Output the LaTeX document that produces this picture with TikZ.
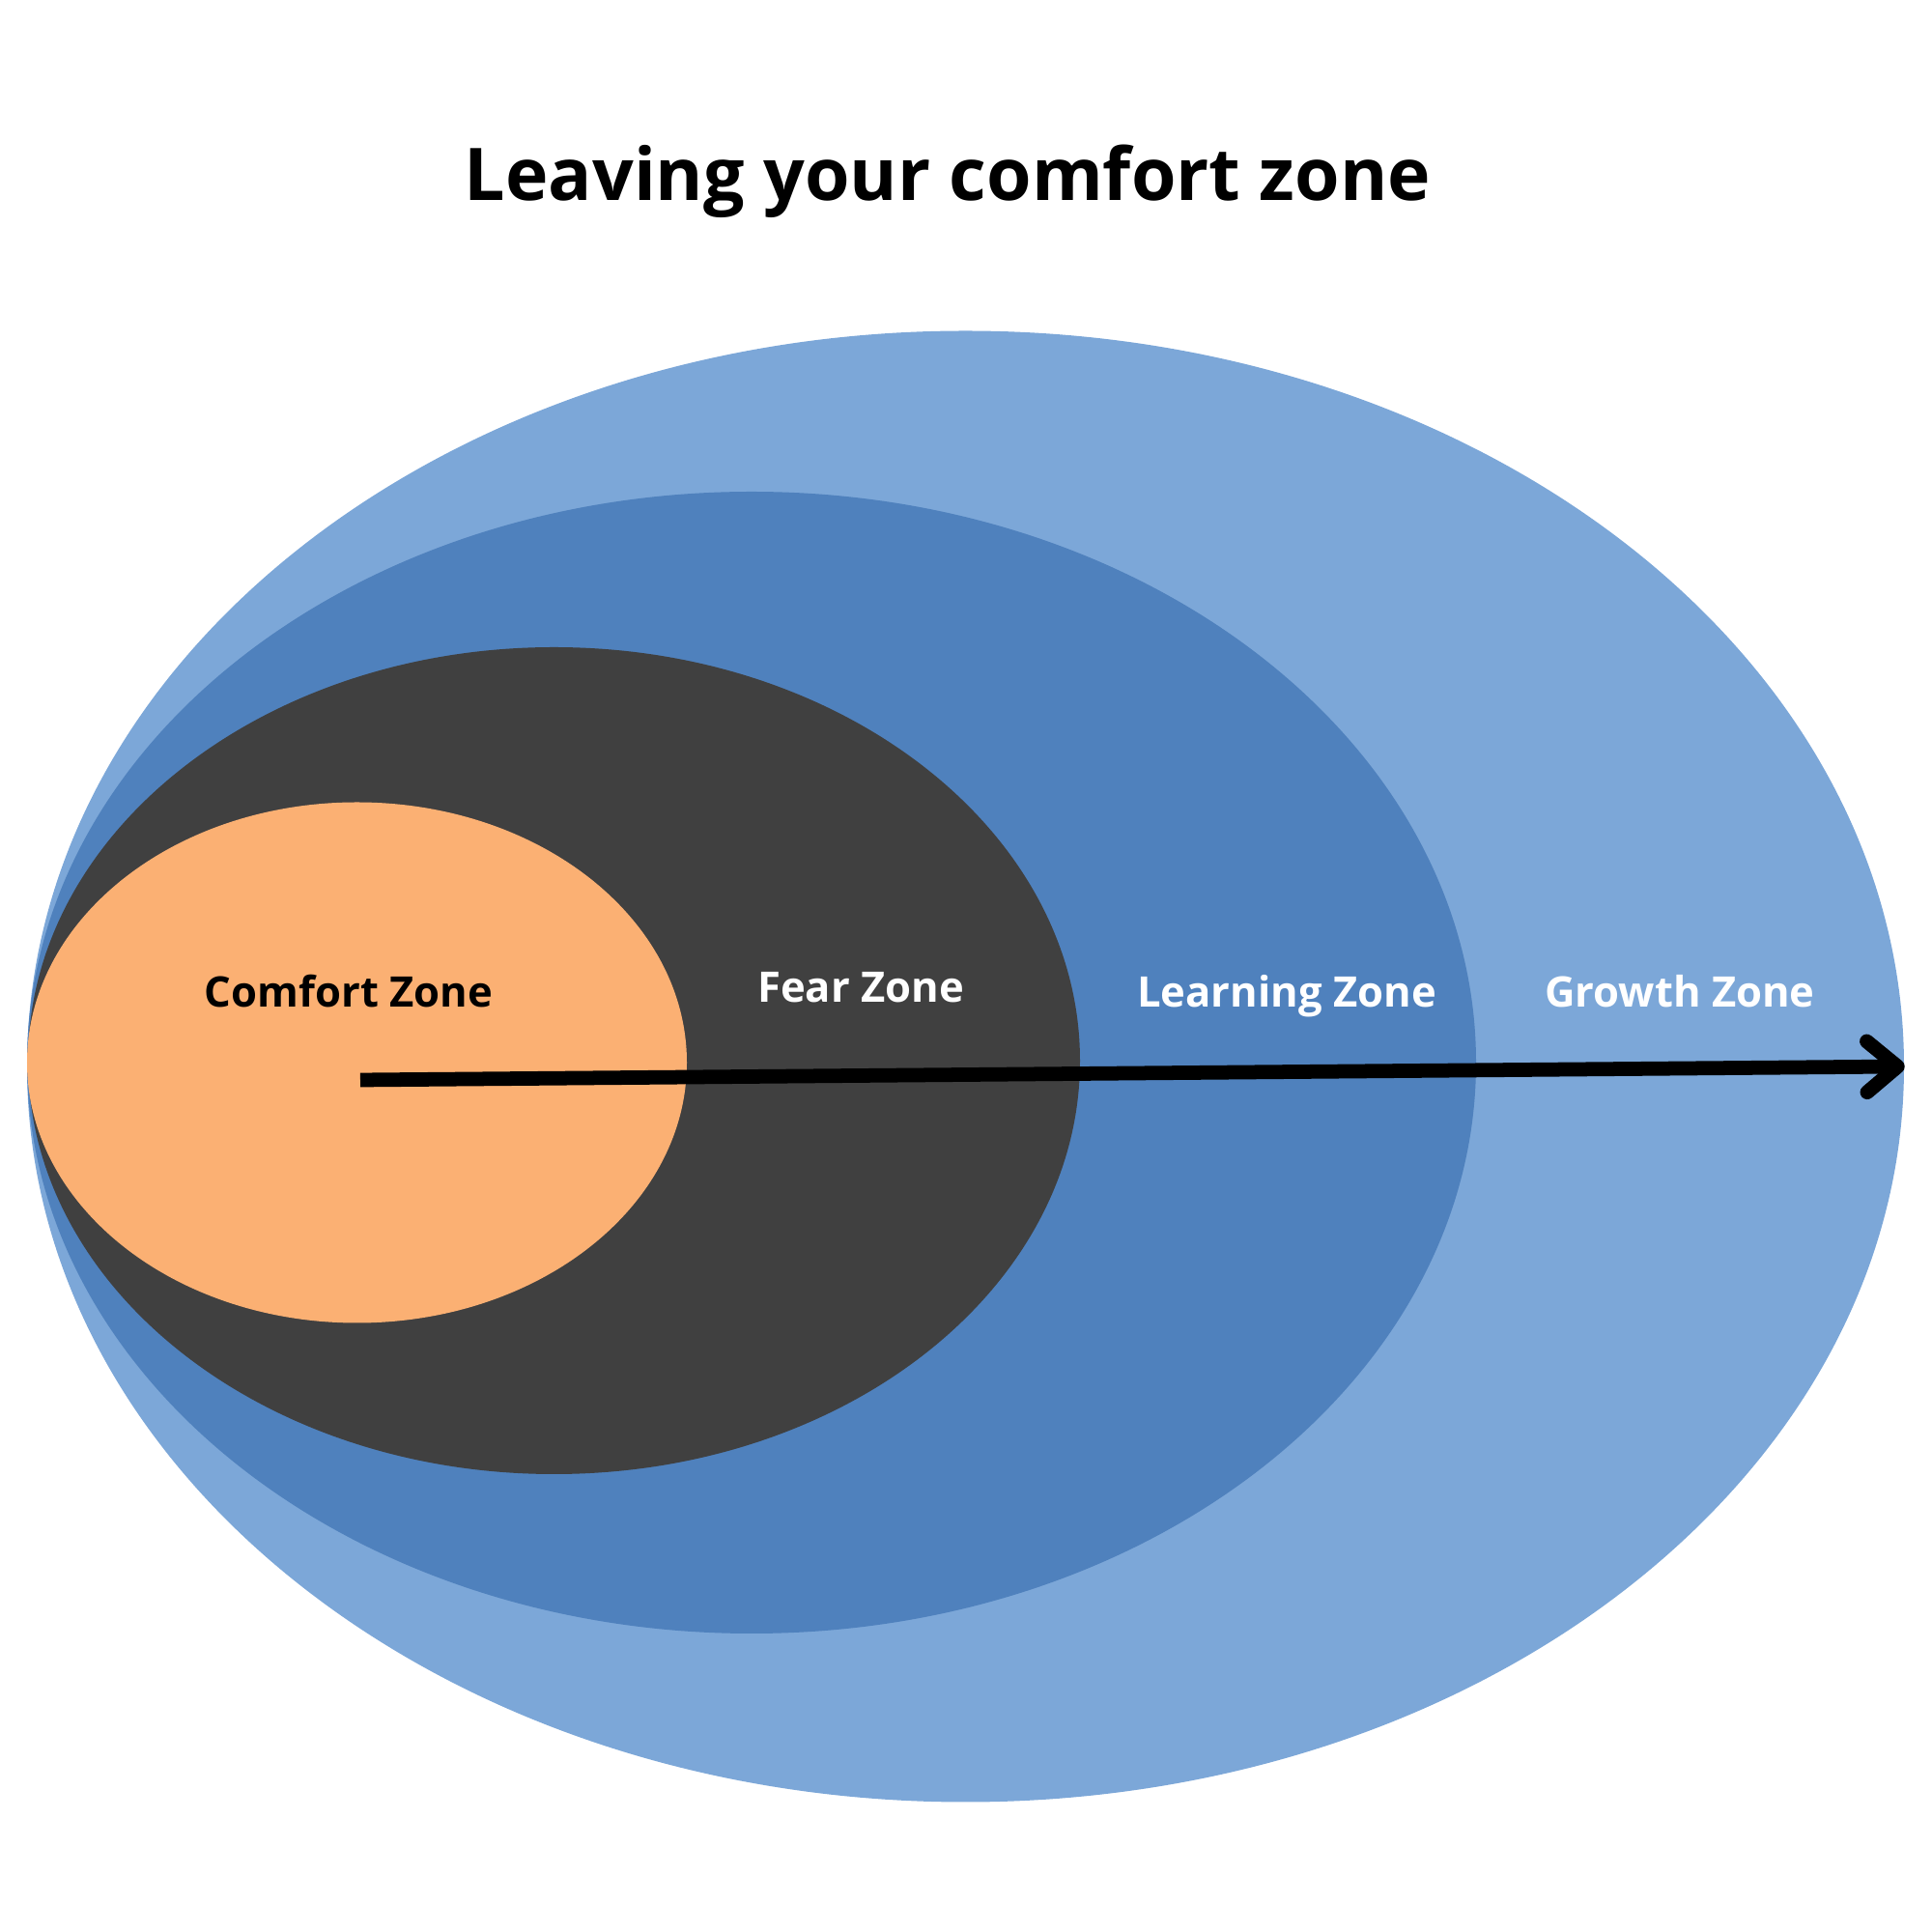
\documentclass[tikz,border=0pt]{standalone}
\usepackage{fontspec}
\setmainfont{Open Sans}
\usepackage{xcolor}
\usepackage{tikz}
\usetikzlibrary{arrows.meta}
\usetikzlibrary{shapes.geometric}

\definecolor{growthblue}{RGB}{124,167,216}
\definecolor{learnblue}{RGB}{79,129,189}
\definecolor{feargray}{RGB}{64,64,64}
\definecolor{comfortorange}{RGB}{251,176,115}

\begin{document}
\begin{tikzpicture}
    \tikzset{Zone/.style={ellipse, inner sep=0pt, draw=none}};
    \tikzset{ZoneLabel/.style={font=\bfseries\fontsize{12.4}{15}\selectfont, inner sep=0pt, anchor=base}};
    \useasboundingbox (0,0) rectangle (20,20);
    \node[font=\bfseries\fontsize{21.4}{26}\selectfont, anchor=base] (title) at (9.81,17.92) {Leaving your comfort zone};
    \node[Zone, fill=growthblue, minimum width=19.43cm, minimum height=15.23cm] (growth) at (9.995,8.96) {};
    \node[Zone, fill=learnblue, minimum width=15.00cm, minimum height=11.82cm] (learning) at (7.78,9.00) {};
    \node[Zone, fill=feargray, minimum width=10.89cm, minimum height=8.56cm] (fear) at (5.735,9.02) {};
    \node[Zone, fill=comfortorange, minimum width=6.83cm, minimum height=5.39cm] (comfort) at (3.695,9.00) {};
    \node[ZoneLabel, text=black] (lc) at (3.61,9.57) {Comfort Zone};
    \node[ZoneLabel, text=white] (lf) at (8.91,9.62) {Fear Zone};
    \node[ZoneLabel, text=white] (ll) at (13.32,9.57) {Learning Zone};
    \node[ZoneLabel, text=white] (lg) at (17.39,9.57) {Growth Zone};
    \coordinate (start) at (3.73,8.82);
    \draw[line width=4.2pt, -{Straight Barb[length=9pt,width=15pt,round]}] (start) -- (growth.east);
  \end{tikzpicture}
\end{document}
